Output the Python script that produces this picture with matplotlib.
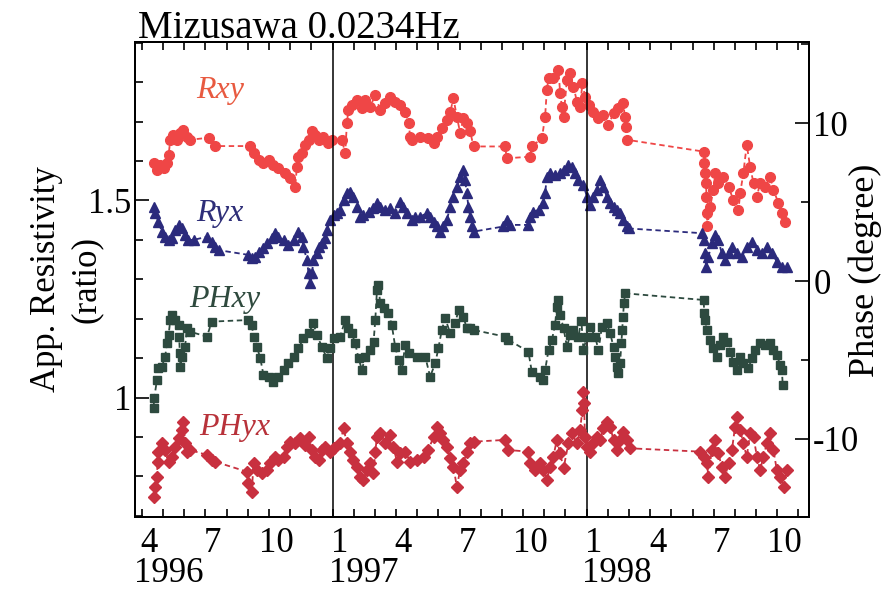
import matplotlib.pyplot as plt
import matplotlib.transforms as mtransforms
from matplotlib.ticker import MultipleLocator

plt.rcParams['font.family'] = ['Liberation Serif', 'DejaVu Serif']

# time axis: months counted from 1 Jan 1996 (3 = 1 Apr 1996, 12 = 1 Jan 1997)
rxy_t = [3.55, 3.71, 3.86, 4.02, 4.18, 4.26, 4.34, 4.49, 4.65, 4.81, 4.96, 5.12, 5.25,
         6.15, 6.46, 8.11, 8.27, 8.51, 8.74, 8.98, 9.21, 9.45, 9.77, 10.00, 10.24, 10.32,
         10.39, 10.55, 10.71, 10.87, 11.03, 11.18, 11.34, 11.57, 11.81, 11.97, 12.44, 12.60,
         12.68, 12.75, 12.91, 13.15, 13.39, 13.54, 13.78, 14.02, 14.25, 14.49, 14.72, 14.96,
         15.20, 15.43, 15.59, 15.67, 15.75, 16.14, 16.53, 16.77, 16.93, 17.16, 17.40, 17.56,
         17.71, 17.87, 18.03, 18.18, 18.34, 18.50, 18.66, 20.15, 20.23, 21.33, 21.41, 21.89,
         22.04, 22.12, 22.20, 22.43, 22.67, 22.75, 22.83, 22.91, 23.07, 23.22, 23.38, 23.54,
         23.69, 23.80, 23.93, 24.09, 24.32, 24.56, 24.79, 25.03, 25.27, 25.50, 25.74, 25.80,
         25.85, 25.90, 29.52, 29.56, 29.60, 29.64, 29.66, 29.68, 29.70, 29.83, 29.99, 30.07,
         30.22, 30.46, 30.70, 30.93, 31.17, 31.25, 31.40, 31.56, 31.72, 31.88, 32.04, 32.19,
         32.43, 32.66, 32.82, 33.06, 33.22, 33.37]
rxy = [1.594, 1.577, 1.590, 1.582, 1.594, 1.615, 1.654, 1.666, 1.654, 1.671, 1.679, 1.662, 1.654,
       1.659, 1.638, 1.638, 1.620, 1.603, 1.594, 1.603, 1.590, 1.582, 1.569, 1.556, 1.535, 1.586,
       1.611, 1.620, 1.641, 1.654, 1.675, 1.666, 1.654, 1.662, 1.645, 1.654, 1.654, 1.620,
       1.696, 1.730, 1.742, 1.755, 1.734, 1.755, 1.738, 1.768, 1.730, 1.747, 1.763, 1.751,
       1.742, 1.725, 1.696, 1.662, 1.654, 1.662, 1.658, 1.645, 1.662, 1.683, 1.704, 1.725,
       1.759, 1.713, 1.671, 1.709, 1.696, 1.675, 1.637, 1.637, 1.607, 1.611, 1.637, 1.658,
       1.713, 1.780, 1.810, 1.810, 1.831, 1.772, 1.738, 1.713, 1.806, 1.823, 1.789, 1.751,
       1.738, 1.797, 1.763, 1.742, 1.725, 1.709, 1.717, 1.692, 1.721, 1.734, 1.747, 1.713,
       1.687, 1.654, 1.624, 1.594, 1.569, 1.544, 1.510, 1.468, 1.434, 1.484, 1.527, 1.569,
       1.544, 1.560, 1.535, 1.501, 1.476, 1.518, 1.569, 1.641, 1.586, 1.544, 1.510, 1.544,
       1.535, 1.560, 1.527, 1.493, 1.468, 1.446]

ryx_t = [3.55, 3.63, 3.78, 3.94, 4.10, 4.26, 4.42, 4.57, 4.73, 4.89, 5.04, 5.20, 5.44,
         6.07, 6.30, 6.46, 6.62, 8.03, 8.19, 8.35, 8.51, 8.74, 8.90, 9.14, 9.29, 9.45, 9.69,
         9.92, 10.16, 10.39, 10.55, 10.63, 10.79, 10.87, 10.95, 11.03, 11.10, 11.26, 11.34,
         11.50, 11.65, 11.73, 11.89, 12.05, 12.20, 12.36, 12.52, 12.68, 12.83, 12.99, 13.15,
         13.31, 13.46, 13.70, 13.93, 14.10, 14.25, 14.49, 14.72, 14.96, 15.20, 15.35, 15.51,
         15.75, 15.90, 16.14, 16.46, 16.61, 16.77, 16.93, 17.08, 17.24, 17.40, 17.56, 17.71,
         17.87, 18.03, 18.14, 18.26, 18.34, 18.42, 18.50, 18.58, 18.66, 20.07, 20.23, 20.39,
         21.25, 21.33, 21.49, 21.73, 21.96, 22.04, 22.12, 22.28, 22.51, 22.75, 22.91, 23.14,
         23.30, 23.46, 23.61, 23.85, 24.01, 24.17, 24.32, 24.48, 24.64, 24.79, 24.95, 25.11,
         25.27, 25.43, 25.58, 25.74, 25.90, 25.98, 29.44, 29.52, 29.60, 29.64, 29.75, 29.91,
         30.07, 30.22, 30.38, 30.54, 30.70, 30.86, 31.09, 31.33, 31.56, 31.80, 32.04, 32.27,
         32.51, 32.75, 32.98, 33.22, 33.45]
ryx = [1.484, 1.468, 1.446, 1.421, 1.408, 1.400, 1.404, 1.425, 1.438, 1.429, 1.412, 1.400, 1.400,
       1.408, 1.395, 1.383, 1.374, 1.362, 1.353, 1.357, 1.370, 1.379, 1.391, 1.404, 1.417, 1.408,
       1.400, 1.387, 1.400, 1.421, 1.408, 1.383, 1.349, 1.315, 1.290, 1.315, 1.349, 1.366,
       1.383, 1.391, 1.404, 1.425, 1.451, 1.463, 1.468, 1.476, 1.501, 1.518, 1.522, 1.510,
       1.484, 1.459, 1.463, 1.472, 1.480, 1.493, 1.484, 1.476, 1.480, 1.468, 1.497, 1.484,
       1.468, 1.451, 1.459, 1.459, 1.468, 1.459, 1.446, 1.434, 1.421, 1.434, 1.451, 1.484,
       1.510, 1.535, 1.560, 1.577, 1.552, 1.518, 1.484, 1.459, 1.434, 1.421, 1.434, 1.451,
       1.438, 1.438, 1.459, 1.472, 1.476, 1.493, 1.518, 1.560, 1.569, 1.565, 1.569, 1.577,
       1.590, 1.586, 1.569, 1.552, 1.540, 1.510, 1.489, 1.510, 1.527, 1.552, 1.535, 1.510,
       1.493, 1.484, 1.476, 1.468, 1.451, 1.434, 1.429, 1.417, 1.400, 1.366, 1.332, 1.357,
       1.391, 1.412, 1.400, 1.366, 1.349, 1.366, 1.383, 1.366, 1.357, 1.383, 1.395, 1.374,
       1.366, 1.383, 1.366, 1.345, 1.332, 1.332]

phxy_t = [3.55, 3.58, 3.71, 3.78, 3.94, 4.10, 4.18, 4.26, 4.34, 4.42, 4.57, 4.73, 4.76,
          4.79, 4.82, 4.89, 5.04, 5.12, 5.28, 6.07, 6.30, 8.03, 8.19, 8.27, 8.43, 8.59, 8.74,
          8.98, 9.21, 9.45, 9.69, 9.92, 10.16, 10.39, 10.63, 10.87, 11.10, 11.26, 11.50, 11.73,
          11.89, 12.05, 12.36, 12.60, 12.75, 12.91, 13.07, 13.23, 13.39, 13.54, 13.78, 13.94,
          14.02, 14.10, 14.17, 14.25, 14.41, 14.64, 14.80, 14.96, 15.12, 15.28, 15.43, 15.59,
          15.98, 16.38, 16.61, 16.85, 17.00, 17.16, 17.32, 17.56, 17.79, 17.95, 18.18, 18.34,
          18.50, 18.66, 20.15, 20.31, 21.25, 21.41, 21.81, 21.96, 22.04, 22.20, 22.36, 22.51,
          22.59, 22.67, 22.75, 22.91, 23.07, 23.22, 23.38, 23.61, 23.75, 23.85, 24.01, 24.17,
          24.40, 24.56, 24.72, 24.95, 25.11, 25.27, 25.35, 25.43, 25.50, 25.58, 25.64, 25.68,
          25.72, 25.76, 25.82, 29.52, 29.56, 29.60, 29.68, 29.83, 29.99, 30.15, 30.31, 30.46,
          30.62, 30.78, 30.93, 31.09, 31.25, 31.40, 31.64, 31.80, 31.96, 32.19, 32.43, 32.66,
          32.82, 32.98, 33.14, 33.22, 33.26]
phxy = [-8.06, -7.42, -6.27, -5.53, -5.42, -4.79, -3.94, -3.42, -2.47, -2.15, -2.47, -2.78, -3.52,
        -4.58, -5.42, -4.79, -4.16, -2.99, -3.21, -3.52, -2.57, -2.47, -2.78, -3.52, -4.16, -4.89, -5.95,
        -6.06, -6.37, -6.06, -5.63, -5.21, -4.79, -4.26, -3.63, -3.31, -2.68, -3.42, -4.16, -4.89,
        -4.26, -3.63, -3.52, -2.47, -2.99, -3.31, -3.94, -4.89, -5.63, -4.79, -4.37, -3.84,
        -2.47, -0.57, -0.25, -1.41, -1.73, -2.04, -2.78, -4.16, -5.00, -5.63, -4.05, -4.58,
        -4.79, -4.79, -6.06, -5.21, -4.26, -3.10, -2.36, -3.31, -2.68, -1.84, -2.26, -2.99,
        -2.99, -3.10, -3.52, -3.73, -4.47, -5.74, -6.06, -6.27, -5.63, -4.37, -3.73, -2.78,
        -1.63, -1.20, -2.15, -2.99, -4.16, -3.42, -3.10, -3.52, -2.50, -4.37, -3.52, -2.89,
        -3.52, -4.37, -2.89, -2.68, -3.31, -4.16, -4.79, -5.42, -5.84, -5.21, -3.94, -3.10,
        -2.26, -1.41, -0.78, -1.20, -2.04, -2.47, -3.10, -3.73, -4.26, -4.79, -4.05, -3.52,
        -3.84, -4.47, -5.11, -5.63, -4.79, -5.21, -5.53, -4.89, -4.37, -3.94, -4.05, -3.94,
        -4.37, -4.68, -5.32, -5.63, -6.58]

phyx_t = [3.55, 3.63, 3.71, 3.74, 3.78, 3.94, 4.10, 4.26, 4.42, 4.57, 4.73, 4.89, 4.96,
          5.04, 5.12, 5.28, 6.07, 6.30, 6.46, 7.96, 8.03, 8.19, 8.27, 8.43, 8.67, 8.90, 9.06,
          9.29, 9.45, 9.69, 9.85, 10.00, 10.24, 10.47, 10.71, 10.87, 11.03, 11.18, 11.34, 11.50,
          11.65, 11.89, 12.05, 12.36, 12.52, 12.68, 12.83, 12.99, 13.15, 13.31, 13.46, 13.62,
          13.78, 13.93, 14.02, 14.10, 14.25, 14.49, 14.72, 14.88, 15.04, 15.20, 15.43, 15.67,
          15.98, 16.30, 16.53, 16.77, 16.93, 17.08, 17.24, 17.40, 17.56, 17.71, 17.87, 18.03,
          18.18, 18.34, 18.50, 18.66, 20.15, 20.31, 21.25, 21.33, 21.57, 21.81, 21.96, 22.12,
          22.28, 22.43, 22.59, 22.75, 22.91, 23.14, 23.30, 23.54, 23.69, 23.80, 23.84, 23.88,
          23.92, 24.01, 24.17, 24.32, 24.48, 24.64, 24.79, 24.95, 25.11, 25.27, 25.43, 25.58,
          25.74, 25.90, 26.05, 29.36, 29.52, 29.68, 29.75, 29.91, 30.07, 30.22, 30.38, 30.54,
          30.70, 30.86, 31.01, 31.09, 31.25, 31.40, 31.56, 31.72, 31.88, 32.04, 32.19, 32.35,
          32.51, 32.66, 32.82, 32.98, 33.14, 33.30, 33.45]
phyx = [-13.65, -13.02, -12.39, -11.44, -10.80, -10.27, -10.70, -11.44, -11.12, -10.49, -9.96, -9.43, -8.90,
        -10.27, -10.80, -10.70, -11.01, -11.33, -11.44, -12.07, -12.80, -13.34, -11.54, -11.96, -12.17, -11.96, -11.54,
        -11.12, -11.33, -11.12, -10.49, -10.17, -10.27, -9.96, -10.38, -9.85, -10.70, -11.12, -11.33, -10.70,
        -10.49, -10.80, -10.59, -10.27, -9.32, -10.27, -10.80, -11.33, -11.75, -12.39, -12.59, -11.96,
        -11.54, -12.17, -10.80, -9.85, -9.64, -10.27, -9.75, -10.49, -11.44, -10.91, -10.80, -11.44,
        -11.33, -11.12, -10.70, -9.85, -9.22, -9.64, -10.06, -10.49, -11.22, -11.75, -13.02, -11.96,
        -11.54, -10.80, -10.27, -10.17, -10.06, -10.70, -10.80, -11.54, -11.96, -11.54, -11.96, -12.59,
        -11.75, -11.12, -10.06, -10.91, -11.86, -10.27, -9.64, -10.27, -9.43, -8.16, -7.00, -7.74,
        -9.85, -10.49, -10.80, -10.27, -9.85, -10.06, -9.32, -8.90, -9.22, -10.06, -10.70, -10.06,
        -9.54, -10.06, -10.59, -10.80, -11.12, -11.54, -12.39, -10.70, -10.06, -10.91, -11.75, -12.39,
        -11.54, -10.70, -9.22, -8.59, -9.43, -10.27, -11.12, -9.64, -9.85, -11.12, -11.96, -11.12,
        -10.27, -9.64, -10.70, -11.96, -12.39, -13.02, -11.96]

month_pos = [3, 6, 9, 12, 15, 18, 21, 24, 27, 30, 33]
month_lab = ['4', '7', '10', '1', '4', '7', '10', '1', '4', '7', '10']
year_lab = ['1996', '1997', '1998']
year_pos = [2.62, 11.85, 23.8]

fig = plt.figure(figsize=(8.89, 5.94), dpi=100)
ax = fig.add_axes([0.152, 0.1296, 0.758, 0.7997])
ax2 = ax.twinx()

dash = (0, (3, 2))
ax.plot(rxy_t, rxy, color='#ef4646', marker='o', ms=7, ls=dash, lw=1.3)
ax.plot(ryx_t, ryx, color='#2b2a7c', marker='^', ms=7.5, ls=dash, lw=1.3)
ax2.plot(phxy_t, phxy, color='#2d4a3f', marker='s', ms=6, ls=dash, lw=1.3)
ax2.plot(phyx_t, phyx, color='#c8303f', marker='D', ms=6, ls=dash, lw=1.3)

for yr in (12, 24):
    ax.axvline(yr, color='black', lw=1.1)

ax.set_xlim(2.68, 34.5)
ax.set_ylim(0.697, 1.902)
ax2.set_ylim(-14.94, 15.13)

# x axis: month ticks inside, labels slightly right of the month tick
ax.xaxis.set_minor_locator(MultipleLocator(1))
ax.set_xticks([p + 0.35 for p in month_pos])
ax.set_xticklabels(month_lab)
ax.tick_params(axis='x', which='major', length=0, pad=7, labelsize=25)
ax.tick_params(axis='x', which='minor', direction='in', length=6, width=1.2,
               top=True, bottom=True)

ax.set_yticks([1.0, 1.5])
ax.set_yticklabels(['1', '1.5'])
ax.yaxis.set_minor_locator(MultipleLocator(0.1))
ax.tick_params(axis='y', which='major', direction='in', length=10, width=1.2,
               pad=3, labelsize=25)
ax.tick_params(axis='y', which='minor', direction='in', length=6, width=1.2)

ax2.set_yticks([-10, 0, 10])
ax2.set_yticklabels(['-10', '0', '10'])
ax2.yaxis.set_minor_locator(MultipleLocator(5))
ax2.tick_params(axis='y', which='major', direction='in', length=10, width=1.2,
                pad=3, labelsize=25)
ax2.tick_params(axis='y', which='minor', direction='in', length=6, width=1.2)

for a in (ax, ax2):
    for s in a.spines.values():
        s.set_linewidth(1.4)

# left axis title in two pieces so each line sits on its own
ax.text(-0.132, 0.5, 'App. Resistivity', transform=ax.transAxes, rotation=90,
        fontsize=25, ha='center', va='center')
ax.text(-0.073, 0.5, '(ratio)', transform=ax.transAxes, rotation=90,
        fontsize=25, ha='center', va='center')
ax2.set_ylabel('Phase (degree)', fontsize=26)
ax2.yaxis.set_label_coords(1.058, 0.52)

ax.text(0.0045, 1.009, 'Mizusawa 0.0234Hz', transform=ax.transAxes,
        fontsize=28, ha='left', va='baseline')

trans = mtransforms.blended_transform_factory(ax.transData, ax.transAxes)
for x, s in zip(year_pos, year_lab):
    ax.text(x, -0.085, s, transform=trans, ha='left', va='top', fontsize=25)

# series names
ax.text(6.70, 1.778, 'Rxy', color='#e85a40', style='italic', fontsize=23,
        ha='center', va='center')
ax.text(6.70, 1.466, 'Ryx', color='#2e2e78', style='italic', fontsize=23,
        ha='center', va='center')
ax2.text(6.93, -1.14, 'PHxy', color='#2f4a3e', style='italic', fontsize=23,
         ha='center', va='center')
ax2.text(7.36, -9.30, 'PHyx', color='#b8323a', style='italic', fontsize=23,
         ha='center', va='center')

fig.savefig('out.png', dpi=100)
